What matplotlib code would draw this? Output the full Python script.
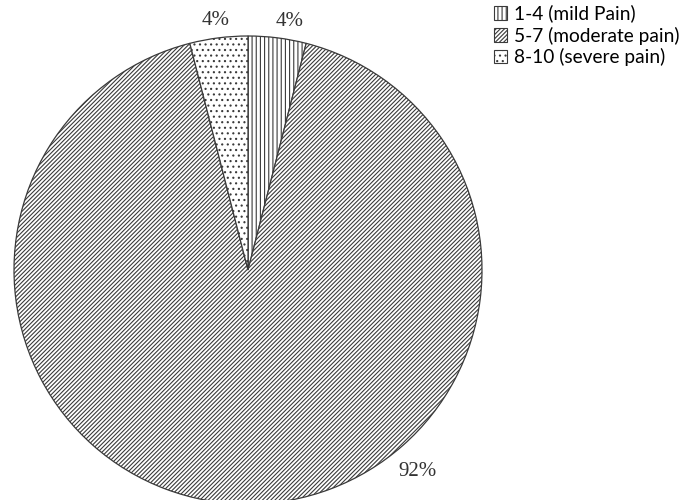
import numpy as np
import matplotlib.pyplot as plt
from matplotlib.patches import Patch

categories = ['1-4 (mild Pain)', '5-7 (moderate pain)', '8-10 (severe pain)']
values = [4, 92, 4]
hatches = ['||||', '////////', '...']

plt.rcParams['hatch.linewidth'] = 0.8
plt.rcParams['hatch.color'] = '#3a3a3a'

fig = plt.figure(figsize=(6.93, 5.0), dpi=100)
ax = fig.add_axes([0, 0, 1, 1])

cx, cy, r = 248, 230, 234
wedges, _ = ax.pie(values, startangle=90, counterclock=False, center=(cx, cy),
                   radius=r, colors=['white'] * 3, frame=True,
                   wedgeprops=dict(edgecolor='#3a3a3a', linewidth=0.9))
ax.set_xlim(0, 693)
ax.set_ylim(0, 500)
ax.set_aspect('equal')
ax.axis('off')
for w, h in zip(wedges, hatches):
    w.set_hatch(h)

# label angles (deg) and distances as fraction of radius
label_pos = [(80.4, 1.075), (-50.0, 1.125), (97.4, 1.075)]
for v, (ang, d) in zip(values, label_pos):
    t = np.deg2rad(ang)
    ax.text(cx + d * r * np.cos(t), cy + d * r * np.sin(t), f'{v}%',
            ha='center', va='center', fontsize=15, family='Liberation Serif',
            color='#333333')

handles = [Patch(facecolor='white', edgecolor='#3a3a3a', hatch=h, linewidth=0.8)
           for h in hatches]
fig.legend(handles, categories, loc='upper left', bbox_to_anchor=(0.688, 1.025),
           frameon=False, handlelength=0.7, handleheight=0.7,
           handletextpad=0.35, labelspacing=0.2,
           prop={'family': 'Lato', 'size': 13.8})

fig.savefig('out.png', dpi=100)
